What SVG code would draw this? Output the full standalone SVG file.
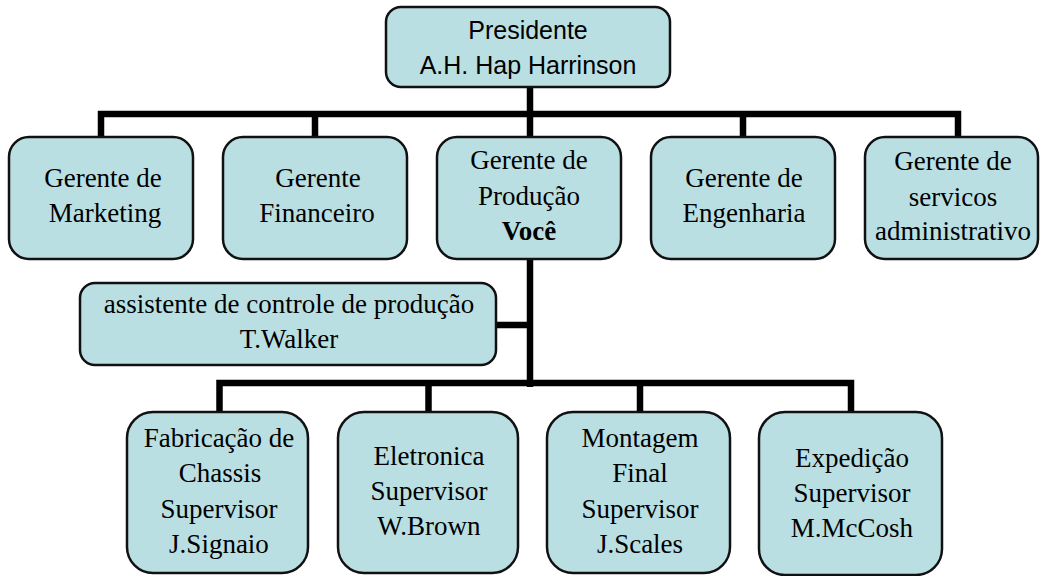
<svg xmlns="http://www.w3.org/2000/svg" width="1040" height="576" viewBox="0 0 1040 576">
<style>
.box{fill:#BADFE3;stroke:#111;stroke-width:2.5}
.t{font-family:"Liberation Serif","Times New Roman",serif;font-size:27px;fill:#000;text-anchor:middle}
.s{font-family:"Liberation Sans",Arial,sans-serif;font-size:25px;fill:#000;text-anchor:middle}
.c{fill:none;stroke:#000;stroke-width:6.5;stroke-linecap:butt}
</style>
<rect width="1040" height="576" fill="#fff"/>
<g id="connectors">
<path class="c" d="M101,137 V114 H958 V137"/>
<path class="c" d="M315,114 V137"/>
<path class="c" d="M743,114 V137"/>
<path class="c" d="M530,87 V137"/>
<path class="c" d="M530,259 V387"/>
<path class="c" d="M496,325 H530"/>
<path class="c" d="M219.5,412 V383 H851 V412"/>
<path class="c" d="M428.5,383 V412"/>
<path class="c" d="M640,383 V412"/>
</g>
<g id="presidente">
<rect class="box" x="386" y="7" width="284" height="80" rx="15"/>
<text class="s" x="528" y="39">Presidente</text>
<text class="s" x="528" y="74">A.H. Hap Harrinson</text>
</g>
<g id="marketing">
<rect class="box" x="9" y="137" width="184" height="122" rx="20"/>
<text class="t" x="103" y="187">Gerente de</text>
<text class="t" x="105" y="222">Marketing</text>
</g>
<g id="financeiro">
<rect class="box" x="223" y="137" width="184" height="122" rx="20"/>
<text class="t" x="318" y="187">Gerente</text>
<text class="t" x="317" y="222">Financeiro</text>
</g>
<g id="producao">
<rect class="box" x="437" y="137" width="184" height="122" rx="20"/>
<text class="t" x="529" y="169">Gerente de</text>
<text class="t" x="529" y="205">Produção</text>
<text class="t" x="529" y="240" font-weight="bold">Você</text>
</g>
<g id="engenharia">
<rect class="box" x="651" y="137" width="184" height="122" rx="20"/>
<text class="t" x="744" y="187">Gerente de</text>
<text class="t" x="744" y="222">Engenharia</text>
</g>
<g id="servicos">
<rect class="box" x="865" y="137" width="173" height="122" rx="20"/>
<text class="t" x="953" y="170">Gerente de</text>
<text class="t" x="953" y="206">servicos</text>
<text class="t" x="953" y="240">administrativo</text>
</g>
<g id="assistente">
<rect class="box" x="80" y="283" width="416" height="82" rx="15"/>
<text class="t" x="289" y="313">assistente de controle de produção</text>
<text class="t" x="289" y="348">T.Walker</text>
</g>
<g id="fabricacao">
<rect class="box" x="127" y="412" width="181" height="161" rx="26"/>
<text class="t" x="219" y="447">Fabricação de</text>
<text class="t" x="220" y="482">Chassis</text>
<text class="t" x="219" y="518">Supervisor</text>
<text class="t" x="219" y="553">J.Signaio</text>
</g>
<g id="eletronica">
<rect class="box" x="338" y="412" width="180" height="161" rx="26"/>
<text class="t" x="429" y="465">Eletronica</text>
<text class="t" x="429" y="500">Supervisor</text>
<text class="t" x="429" y="535">W.Brown</text>
</g>
<g id="montagem">
<rect class="box" x="547" y="412" width="183" height="161" rx="26"/>
<text class="t" x="640" y="447">Montagem</text>
<text class="t" x="640" y="482">Final</text>
<text class="t" x="640" y="518">Supervisor</text>
<text class="t" x="640" y="553">J.Scales</text>
</g>
<g id="expedicao">
<rect class="box" x="759" y="412" width="183" height="163" rx="26"/>
<text class="t" x="852" y="467">Expedição</text>
<text class="t" x="852" y="502">Supervisor</text>
<text class="t" x="852" y="537">M.McCosh</text>
</g>
</svg>
